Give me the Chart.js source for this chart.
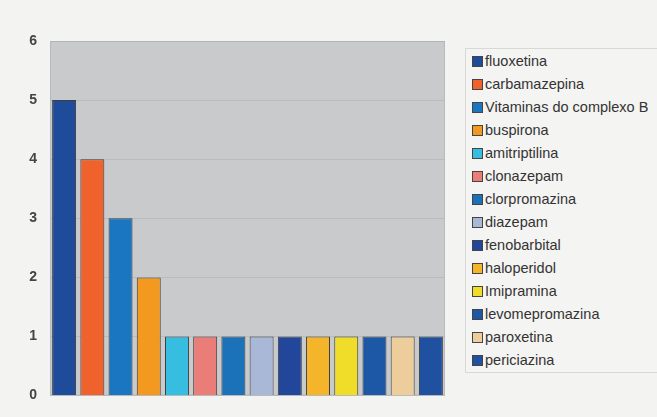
<!DOCTYPE html>
<html>
<head>
<meta charset="utf-8">
<script src="https://cdn.jsdelivr.net/npm/chart.js@4.4.1/dist/chart.umd.min.js"></script>
<style>
  html, body { margin: 0; padding: 0; background: #f3f3f1; overflow: hidden; }
  #wrap { position: relative; width: 657px; height: 417px; }
  #legend {
    position: absolute; left: 465px; top: 48px; width: 200px; height: 325px;
    border: 1px solid #d8d8d6; background: #f4f4f2; box-sizing: border-box;
    font-family: "Liberation Sans", Arial, sans-serif; font-size: 14.5px; color: #333;
    padding-top: 4px;
  }
  #legend div { height: 23px; line-height: 17px; white-space: nowrap; padding-left: 6px; }
  #legend span.sw {
    display: inline-block; width: 9px; height: 9px; border: 1px solid #444;
    margin-right: 2px; vertical-align: -1px;
  }
</style>
</head>
<body>
<div id="wrap">
  <canvas id="c" width="657" height="417"></canvas>
  <div id="legend"></div>
</div>
<script>
var drugs = ['fluoxetina','carbamazepina','Vitaminas do complexo B','buspirona','amitriptilina',
  'clonazepam','clorpromazina','diazepam','fenobarbital','haloperidol','Imipramina',
  'levomepromazina','paroxetina','periciazina'];
var counts = [5,4,3,2,1,1,1,1,1,1,1,1,1,1];
var colors = ['#1f4c9a','#f0622c','#1a76c0','#f3991f','#36bde0','#ea7d77','#1b72b8',
  '#a9b8d6','#22479a','#f4b52a','#f0dd2a','#1d58a6','#eecd9c','#1f51a0'];
var yTicks = [0,1,2,3,4,5,6];

// fundo cinza da área do gráfico
var plotBg = {
  id: 'plotBg',
  beforeDraw: function (chart) {
    var a = chart.chartArea, ctx = chart.ctx;
    ctx.save();
    ctx.fillStyle = '#c8cacc';
    ctx.fillRect(a.left, a.top, a.right - a.left, a.bottom - a.top);
    ctx.strokeStyle = '#b8babc';
    ctx.strokeRect(a.left + 0.5, a.top + 0.5, a.right - a.left - 1, a.bottom - a.top - 1);
    ctx.restore();
  }
};

var datasets = drugs.map(function (d, i) {
  return {
    label: d, data: [counts[i]], backgroundColor: colors[i],
    borderColor: '#3e3e3e', borderWidth: 1,
    categoryPercentage: 1.0, barPercentage: 0.85
  };
});

new Chart(document.getElementById('c'), {
  type: 'bar',
  data: { labels: [''], datasets: datasets },
  options: {
    responsive: false, animation: false,
    layout: { padding: { top: 41, right: 212, bottom: 19, left: 0 } },
    plugins: { legend: { display: false }, tooltip: { enabled: false } },
    scales: {
      x: { display: false },
      y: {
        min: 0, max: 6,
        afterFit: function (s) { s.width = 50; },
        afterBuildTicks: function (s) { s.ticks = yTicks.map(function (v) { return { value: v }; }); },
        grid: { color: 'rgba(170,172,174,0.5)', drawTicks: false },
        border: { display: false },
        ticks: { padding: 13, color: '#444', font: { family: 'Liberation Sans', size: 14, weight: 'bold' } }
      }
    }
  },
  plugins: [plotBg]
});

var lg = document.getElementById('legend');
drugs.forEach(function (d, i) {
  var row = document.createElement('div');
  row.innerHTML = '<span class="sw" style="background:' + colors[i] + '"></span>' + d;
  lg.appendChild(row);
});
</script>
</body>
</html>
